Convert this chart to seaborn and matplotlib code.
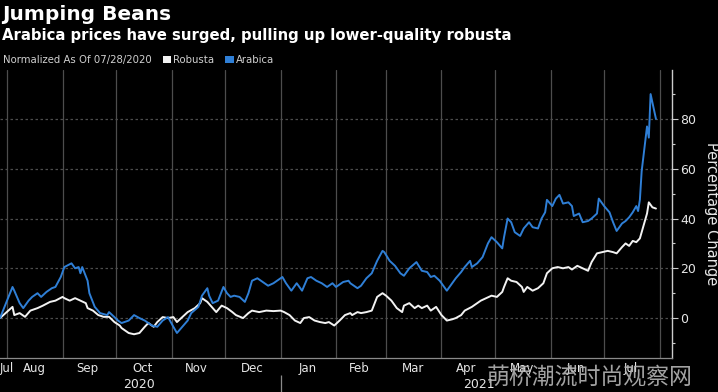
import pandas as pd
import matplotlib.pyplot as plt
import matplotlib.dates as mdates
from matplotlib.patches import Patch
from matplotlib.ticker import MultipleLocator, FixedLocator, FixedFormatter, NullFormatter
import seaborn as sns

# === DATA (% change since 07/28/2020) ===
arabica_dates = [
    "2020-07-28",
    "2020-08-04", "2020-08-05", "2020-08-08", "2020-08-10", "2020-08-13", "2020-08-15",
    "2020-08-18", "2020-08-20", "2020-08-23", "2020-08-26", "2020-08-28", "2020-08-31",
    "2020-09-02", "2020-09-06", "2020-09-08", "2020-09-10", "2020-09-11", "2020-09-12",
    "2020-09-15", "2020-09-16", "2020-09-19", "2020-09-22", "2020-09-26", "2020-09-27", "2020-09-30",
    "2020-10-02", "2020-10-04", "2020-10-08", "2020-10-11", "2020-10-14", "2020-10-17",
    "2020-10-21", "2020-10-24", "2020-10-27", "2020-10-30",
    "2020-11-02", "2020-11-04", "2020-11-07", "2020-11-10", "2020-11-12", "2020-11-16",
    "2020-11-18", "2020-11-21", "2020-11-22", "2020-11-24", "2020-11-27", "2020-11-30",
    "2020-12-02", "2020-12-04", "2020-12-06", "2020-12-09", "2020-12-12", "2020-12-14",
    "2020-12-16", "2020-12-19", "2020-12-22", "2020-12-25", "2020-12-28", "2020-12-30",
    "2021-01-02", "2021-01-04", "2021-01-07", "2021-01-10", "2021-01-13", "2021-01-16",
    "2021-01-18", "2021-01-21", "2021-01-24", "2021-01-27", "2021-01-30",
    "2021-02-01", "2021-02-05", "2021-02-08", "2021-02-09", "2021-02-13", "2021-02-15",
    "2021-02-18", "2021-02-21", "2021-02-24", "2021-02-27", "2021-02-28",
    "2021-03-03", "2021-03-06", "2021-03-09", "2021-03-11", "2021-03-14", "2021-03-18",
    "2021-03-21", "2021-03-24", "2021-03-26", "2021-03-28", "2021-03-31",
    "2021-04-03", "2021-04-04", "2021-04-07", "2021-04-09", "2021-04-12", "2021-04-14",
    "2021-04-17", "2021-04-18", "2021-04-21", "2021-04-24", "2021-04-27", "2021-04-29",
    "2021-05-02", "2021-05-05", "2021-05-06", "2021-05-08", "2021-05-10", "2021-05-12",
    "2021-05-15", "2021-05-17", "2021-05-20", "2021-05-22", "2021-05-25", "2021-05-27",
    "2021-05-29", "2021-05-30",
    "2021-06-02", "2021-06-04", "2021-06-06", "2021-06-08", "2021-06-11", "2021-06-13",
    "2021-06-14", "2021-06-17", "2021-06-19", "2021-06-22", "2021-06-24", "2021-06-27", "2021-06-28",
    "2021-07-01", "2021-07-04", "2021-07-06", "2021-07-08", "2021-07-11", "2021-07-13",
    "2021-07-15", "2021-07-17", "2021-07-19", "2021-07-20", "2021-07-21", "2021-07-22",
    "2021-07-25", "2021-07-26", "2021-07-27", "2021-07-30",
]
arabica_pct = [
    0,
    12.5, 11, 6, 4, 7, 8.5, 10, 8.5, 10.5, 12, 12.5, 16.5,
    20.5, 22, 20, 20.5, 18, 20.5, 15, 10, 4.5, 2, 1.2, 2.4, 0.4,
    -1, -2, -1, 1.2, 0, -1, -3, -3.5, -1, 0.4,
    -3.5, -6, -3.5, -1, 2, 4.5, 9, 12, 9, 6, 7, 12.5,
    10, 8.5, 9, 8.5, 6.5, 10, 15, 16, 14.5, 13, 14, 15,
    16.5, 14, 11, 14, 11, 16, 16.5, 15, 14, 12.5, 14,
    12.5, 14.5, 15, 14, 12, 13, 16, 18, 23, 27, 26.5,
    23, 21, 18, 17, 20, 22.5, 19, 18.5, 16.5, 17, 15,
    12, 11, 14, 16, 18.5, 20.5, 23, 20.5, 22, 24.5, 30, 32.5,
    30.5, 28, 32.5, 40, 38.5, 34.5, 33, 36, 38.5, 36.5, 36, 40, 42.5, 47.5,
    45, 48, 49.5, 46, 46.5, 45, 41, 42, 38.5, 39, 40, 42, 48,
    45, 42.5, 38.5, 35, 38, 39, 40.5, 42.5, 45, 43, 47.5, 59, 77, 72.5, 90, 80,
]

robusta_dates = [
    "2020-07-28",
    "2020-08-04", "2020-08-05", "2020-08-08", "2020-08-11", "2020-08-14", "2020-08-18",
    "2020-08-21", "2020-08-25", "2020-08-28",
    "2020-09-01", "2020-09-02", "2020-09-05", "2020-09-08", "2020-09-11", "2020-09-14",
    "2020-09-15", "2020-09-18", "2020-09-21", "2020-09-24", "2020-09-27", "2020-09-30",
    "2020-10-03", "2020-10-04", "2020-10-08", "2020-10-11", "2020-10-14", "2020-10-17",
    "2020-10-19", "2020-10-22", "2020-10-24", "2020-10-27", "2020-10-30",
    "2020-11-02", "2020-11-04", "2020-11-07", "2020-11-10", "2020-11-14", "2020-11-17",
    "2020-11-18", "2020-11-21", "2020-11-24", "2020-11-26", "2020-11-29",
    "2020-12-02", "2020-12-05", "2020-12-07", "2020-12-11", "2020-12-14", "2020-12-16",
    "2020-12-20", "2020-12-24", "2020-12-28",
    "2021-01-01", "2021-01-03", "2021-01-06", "2021-01-09", "2021-01-12", "2021-01-14",
    "2021-01-17", "2021-01-20", "2021-01-23", "2021-01-26", "2021-01-28", "2021-01-31",
    "2021-02-03", "2021-02-06", "2021-02-09", "2021-02-10", "2021-02-13", "2021-02-15",
    "2021-02-18", "2021-02-21", "2021-02-24", "2021-02-27",
    "2021-03-01", "2021-03-04", "2021-03-07", "2021-03-10", "2021-03-11", "2021-03-14",
    "2021-03-17", "2021-03-19", "2021-03-21", "2021-03-24", "2021-03-26", "2021-03-29",
    "2021-04-01", "2021-04-04", "2021-04-07", "2021-04-09", "2021-04-12", "2021-04-14",
    "2021-04-18", "2021-04-21", "2021-04-23", "2021-04-26", "2021-04-29",
    "2021-05-02", "2021-05-05", "2021-05-06", "2021-05-08", "2021-05-10", "2021-05-13",
    "2021-05-16", "2021-05-17", "2021-05-19", "2021-05-22", "2021-05-25", "2021-05-28", "2021-05-30",
    "2021-06-02", "2021-06-05", "2021-06-08", "2021-06-11", "2021-06-13", "2021-06-16",
    "2021-06-19", "2021-06-22", "2021-06-24", "2021-06-27", "2021-06-30",
    "2021-07-03", "2021-07-06", "2021-07-08", "2021-07-11", "2021-07-13", "2021-07-15",
    "2021-07-17", "2021-07-19", "2021-07-21", "2021-07-22", "2021-07-25", "2021-07-26",
    "2021-07-28", "2021-07-30",
]
robusta_pct = [
    0,
    4.5, 1.2, 2, 0.5, 3, 4, 5, 6.5, 7,
    8.5, 8, 7, 8, 7, 6, 4, 3, 1.2, 0.5, 0.5, -1.6,
    -3, -4, -6, -6.5, -6, -3.5, -2, -3.5, -1.6, 0.4, 0,
    0.4, -1.6, 0.4, 2.4, 4, 6, 8, 6.5, 4, 2.4, 5,
    4, 2.4, 1.2, 0, 2, 3, 2.4, 3, 2.8,
    3, 2.4, 1.2, -1, -2, 0, 0.4, -1, -1.6, -2, -1.6, -3,
    -1, 1.2, 2, 1.2, 2.4, 2, 2.4, 3, 8.5, 10,
    9, 7, 4, 2.4, 5, 6, 4, 5, 4, 5, 3, 4.5,
    1.2, -1, -0.5, 0, 1.2, 3, 4.5, 6, 7, 8, 9,
    8.5, 10.5, 12.5, 16, 15, 14.5, 12.5, 10.5, 12.5, 11, 12, 14, 18,
    20, 20.5, 20, 20.5, 19.5, 21, 20, 19, 22.5, 26, 26.5,
    27, 26.5, 26, 28.5, 30, 29, 31, 30.5, 32, 34.5, 42, 46.5, 44.5, 44,
]

series_names = ["Robusta", "Arabica"]
series_colors = ["#f2f2f2", "#2f7fd6"]

month_labels = ["Jul", "Aug", "Sep", "Oct", "Nov", "Dec", "Jan",
                "Feb", "Mar", "Apr", "May", "Jun", "Jul"]
month_label_dates = ["2020-08-01", "2020-08-16", "2020-09-15", "2020-10-16", "2020-11-15",
                     "2020-12-16", "2021-01-16", "2021-02-14", "2021-03-16", "2021-04-15",
                     "2021-05-16", "2021-06-15", "2021-07-16"]
year_labels = ["2020", "2021"]
year_label_dates = ["2020-10-14", "2021-04-22"]
year_break = "2021-01-01"

x_start, x_end = "2020-07-28", "2021-08-08"

# === BUILD LONG TABLE ===
df = pd.concat([
    pd.DataFrame({"date": pd.to_datetime(robusta_dates), "pct": robusta_pct, "series": "Robusta"}),
    pd.DataFrame({"date": pd.to_datetime(arabica_dates), "pct": arabica_pct, "series": "Arabica"}),
])

sns.set_style("dark")
plt.rcParams["font.family"] = ["DejaVu Sans"]

bg = "black"
grid_c = "#4d4d4d"
txt_c = "#e6e6e6"

fig = plt.figure(figsize=(7.18, 3.92), dpi=100, facecolor=bg)
ax = fig.add_axes([0.0, 0.087, 0.936, 0.734], facecolor=bg)

sns.lineplot(data=df, x="date", y="pct", hue="series", hue_order=series_names,
             palette=dict(zip(series_names, series_colors)), linewidth=1.4,
             estimator=None, legend=False, ax=ax)

ax.set_xlim(pd.Timestamp(x_start), pd.Timestamp(x_end))
ax.set_ylim(-16, 99.6)

# x axis: gridlines at month starts, labels mid-month
ax.xaxis.remove_overlapping_locs = False
ax.xaxis.set_major_locator(mdates.MonthLocator())
ax.xaxis.set_major_formatter(NullFormatter())
ax.xaxis.set_minor_locator(FixedLocator(mdates.date2num(pd.to_datetime(month_label_dates))))
ax.xaxis.set_minor_formatter(FixedFormatter(month_labels))
ax.tick_params(axis="x", which="major", length=4, color="#999999", width=0.8, direction="out")
ax.tick_params(axis="x", which="minor", length=0, pad=3, labelsize=8.5, labelcolor=txt_c)

# y axis on the right
ax.yaxis.tick_right()
ax.yaxis.set_label_position("right")
ax.yaxis.set_major_locator(MultipleLocator(20))
ax.yaxis.set_minor_locator(MultipleLocator(10))
ax.tick_params(axis="y", which="major", length=4, color="#cccccc", width=0.8,
               direction="out", labelsize=9, labelcolor=txt_c, pad=2)
ax.tick_params(axis="y", which="minor", length=2.5, color="#cccccc", width=0.8, direction="out")
ax.set_ylabel("Percentage Change", rotation=270, color=txt_c, fontsize=10.5, labelpad=16)
ax.set_xlabel("")

ax.grid(False)
ax.grid(axis="y", which="major", color=grid_c, linestyle=(0, (2, 2)), linewidth=0.9)
ax.grid(axis="x", which="major", color=grid_c, linewidth=0.9)

for side in ["left", "top"]:
    ax.spines[side].set_visible(False)
ax.spines["right"].set_color("#cccccc")
ax.spines["bottom"].set_color("#8a8a8a")
ax.spines["right"].set_linewidth(1.0)
ax.spines["bottom"].set_linewidth(0.9)

# year row with a separator tick at the year break
sec = ax.secondary_xaxis(-0.06)
sec.xaxis.set_major_locator(FixedLocator([mdates.date2num(pd.Timestamp(year_break))]))
sec.xaxis.set_major_formatter(NullFormatter())
sec.xaxis.set_minor_locator(FixedLocator(mdates.date2num(pd.to_datetime(year_label_dates))))
sec.xaxis.set_minor_formatter(FixedFormatter(year_labels))
sec.tick_params(which="major", length=14, color="#8a8a8a", width=0.9, direction="out")
sec.tick_params(which="minor", length=0, pad=2, labelsize=9, labelcolor=txt_c)
sec.spines["bottom"].set_visible(False)

# titles and legend row
fig.text(0.003, 0.988, "Jumping Beans", color="white", fontsize=14.5, fontweight="bold", va="top")
fig.text(0.003, 0.928, "Arabica prices have surged, pulling up lower-quality robusta",
         color="white", fontsize=10.75, fontweight="bold", va="top")
fig.text(0.004, 0.847, "Normalized As Of 07/28/2020", color="#d0d0d0", fontsize=7.3, va="center")
handles = [Patch(facecolor=c, edgecolor="none") for c in series_colors]
leg = fig.legend(handles, series_names, loc="center left", bbox_to_anchor=(0.227, 0.847),
                 ncol=2, frameon=False, fontsize=7.3, handlelength=0.8, handleheight=0.8,
                 handletextpad=0.2, columnspacing=1.1, borderpad=0, borderaxespad=0)
for t in leg.get_texts():
    t.set_color("#d0d0d0")

# watermark
fig.text(0.678, 0.038, "萌桥潮流时尚观察网", color="#b5b5b5", alpha=0.9, fontsize=16.5,
         va="center", family=["Noto Sans CJK SC", "DejaVu Sans"])

fig.savefig("out.png", dpi=100, facecolor=bg)
